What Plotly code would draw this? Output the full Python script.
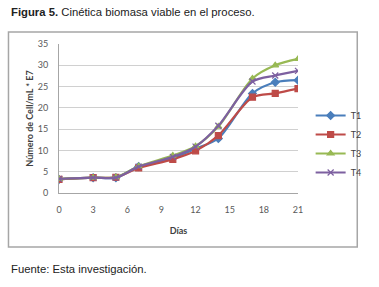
import plotly.graph_objects as go

dias = [0, 3, 5, 7, 10, 12, 14, 17, 19, 21]
t1 = [3.2, 3.6, 3.6, 6.2, 8.2, 10.4, 12.8, 23.4, 26.0, 26.5]
t2 = [3.2, 3.6, 3.7, 5.9, 7.9, 9.9, 13.5, 22.5, 23.4, 24.5]
t3 = [3.3, 3.6, 3.7, 6.3, 8.8, 11.0, 15.6, 26.9, 30.0, 31.5]
t4 = [3.3, 3.6, 3.6, 6.2, 8.5, 10.9, 15.8, 26.2, 27.6, 28.7]
series = [("T1", t1, "#4A7EBB", "diamond", 6),
          ("T2", t2, "#BE4B48", "square", 6),
          ("T3", t3, "#98B954", "triangle-up", 6),
          ("T4", t4, "#7D60A0", "x-thin-open", 6)]
xticks = [0, 3, 6, 9, 12, 15, 18, 21]
yticks = [0, 5, 10, 15, 20, 25, 30, 35]

fig = go.Figure()
for name, vals, col, sym, sz in series:
    fig.add_trace(go.Scatter(
        x=dias, y=vals, name=name, mode="lines+markers",
        line=dict(color=col, width=2.2, shape="spline", smoothing=0.8),
        marker=dict(symbol=sym, size=sz, color=col, line=dict(color=col, width=1.2))))

W, H = 379, 287
L, R, T, B = 59, 305, 44, 193
pw, ph = R - L, B - T
def px(x): return (x - L) / pw
def py(y): return (B - y) / ph

fig.add_shape(type="rect", xref="paper", yref="paper",
              x0=px(7), x1=px(366), y0=py(247), y1=py(32),
              line=dict(color="#A6A6A6", width=1.5), layer="below")

fig.add_annotation(xref="paper", yref="paper", x=px(8), y=py(12),
                   xanchor="left", yanchor="middle", showarrow=False,
                   text="<b>Figura 5.</b> Cinética biomasa viable en el proceso.",
                   font=dict(family="Liberation Sans Narrow, Liberation Sans", size=11.3, color="#222"))
fig.add_annotation(xref="paper", yref="paper", x=px(8), y=py(269),
                   xanchor="left", yanchor="middle", showarrow=False,
                   text="Fuente: Esta investigación.",
                   font=dict(family="Liberation Sans Narrow, Liberation Sans", size=11.3, color="#222"))

fig.update_layout(
    width=W, height=H,
    margin=dict(l=L, r=W - R, t=T, b=H - B, pad=0),
    paper_bgcolor="white", plot_bgcolor="white",
    font=dict(family="Lato, Open Sans, sans-serif", size=9, color="#595959"),
    legend=dict(x=px(318), y=py(101), xanchor="left", yanchor="top",
                font=dict(size=9, color="#404040"), tracegroupgap=0,
                itemwidth=30, bgcolor="rgba(0,0,0,0)"),
    xaxis=dict(range=[0, 21], tickvals=xticks, showgrid=False, zeroline=False,
               showline=True, linecolor="#A6A6A6", ticks="", ticklabelstandoff=8,
               title=dict(text="<b>Días</b>", font=dict(size=9, color="#404040"), standoff=13)),
    yaxis=dict(range=[0, 35], tickvals=yticks, showgrid=True, gridcolor="#D0D0D0",
               zeroline=False, showline=True, linecolor="#A6A6A6", ticks="", ticklabelstandoff=8,
               title=dict(text="<b>Número de Cell/mL * E7</b>", font=dict(size=9, color="#404040"), standoff=2)),
)
fig.write_html("out.html", config={"displayModeBar": False},
               post_script="document.body.style.margin='0';")
